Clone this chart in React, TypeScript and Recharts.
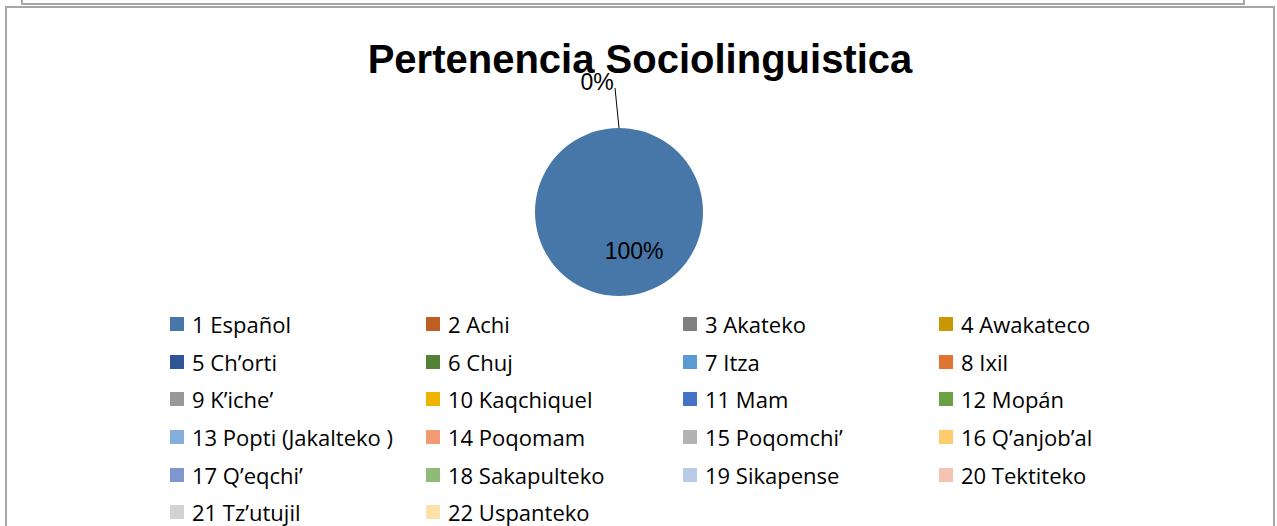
import { PieChart, Pie, Cell, Legend } from "recharts";

const languages = [
  "1 Español", "2 Achi", "3 Akateko", "4 Awakateco",
  "5 Ch’orti", "6 Chuj", "7 Itza", "8 Ixil",
  "9 K’iche’", "10 Kaqchiquel", "11 Mam", "12 Mopán",
  "13 Popti (Jakalteko )", "14 Poqomam", "15 Poqomchi’", "16 Q’anjob’al",
  "17 Q’eqchi’", "18 Sakapulteko", "19 Sikapense", "20 Tektiteko",
  "21 Tz’utujil", "22 Uspanteko",
];

// share of students per language (%)
const shares = [100, 0, 0, 0, 0, 0, 0, 0, 0, 0, 0, 0, 0, 0, 0, 0, 0, 0, 0, 0, 0, 0];

const colors = [
  "#4677a8", "#be5e22", "#808080", "#c89800",
  "#2f5597", "#538135", "#5b9bd5", "#e07430",
  "#999999", "#f0b400", "#4472c4", "#6aa142",
  "#85aedd", "#f19a74", "#b3b3b3", "#ffcb6c",
  "#7f96cf", "#8fbb78", "#b8cce8", "#f4c3b1",
  "#d3d3d3", "#ffdfaa",
];

const data = languages.map((name, i) => ({ name, value: shares[i] }));

const labelFont = "'Liberation Sans', Arial, sans-serif";

// Excel-style labels: the full slice inside, one zero label outside with a leader
function renderLabel(props: any) {
  const { cx, cy, outerRadius, index, value } = props;
  if (index === 0) {
    return (
      <text x={cx + outerRadius * 0.18} y={cy + outerRadius * 0.47} textAnchor="middle"
        dominantBaseline="central" fontSize={23} fontFamily={labelFont} fill="#000">
        {`${value}%`}
      </text>
    );
  }
  if (index === 1) {
    return (
      <g>
        <line x1={cx} y1={cy - outerRadius} x2={cx - 4} y2={cy - outerRadius - 40} stroke="#000" strokeWidth={1} />
        <text x={cx - 22} y={cy - outerRadius - 46} textAnchor="middle" dominantBaseline="central"
          fontSize={23} fontFamily={labelFont} fill="#000">
          {`${value}%`}
        </text>
      </g>
    );
  }
  return null;
}

function LegendGrid(props: any) {
  // keep the data order (legend sorts by name otherwise)
  const items = [...(props.payload ?? [])].sort(
    (a: any, b: any) => languages.indexOf(a.value) - languages.indexOf(b.value)
  );
  return (
    <div style={{ display: "grid", gridTemplateColumns: "256px 257px 256px 256px", fontFamily: "'Open Sans', sans-serif", fontSize: 22, color: "#000" }}>
      {items.map((it: any, i: number) => (
        <div key={i} style={{ height: 37.7, display: "flex", alignItems: "center", whiteSpace: "nowrap" }}>
          <span style={{ width: 14, height: 14, background: it.color, display: "inline-block", marginRight: 8 }} />
          <span>{it.value}</span>
        </div>
      ))}
    </div>
  );
}

export default function App() {
  return (
    <div style={{ position: "absolute", left: 0, top: 0, width: 1277, height: 526, background: "#fff", overflow: "hidden" }}>
      <div style={{ position: "absolute", left: 21, top: -10, width: 1220, height: 11, border: "2px solid #a6a6a6" }} />
      <div style={{ position: "absolute", left: 5, top: 6, width: 1266, height: 540, border: "2px solid #a6a6a6" }} />
      <div style={{ position: "absolute", left: 0, top: 34, width: 1280, textAlign: "center", fontFamily: labelFont, fontWeight: "bold", fontSize: 40, color: "#000", lineHeight: "50px" }}>
        Pertenencia Sociolinguistica
      </div>
      <PieChart width={1277} height={526} margin={{ top: 0, right: 0, bottom: 0, left: 0 }}
        style={{ position: "absolute", left: 0, top: 0 }}>
        <Pie data={data} dataKey="value" nameKey="name" cx={619} cy={212} outerRadius={84}
          startAngle={90} endAngle={-270} stroke="none" label={renderLabel} labelLine={false}
          isAnimationActive={false}>
          {data.map((d, i) => (
            <Cell key={d.name} fill={colors[i]} />
          ))}
        </Pie>
        <Legend content={LegendGrid} wrapperStyle={{ position: "absolute", left: 170, top: 305, width: 1030 }} />
      </PieChart>
    </div>
  );
}
